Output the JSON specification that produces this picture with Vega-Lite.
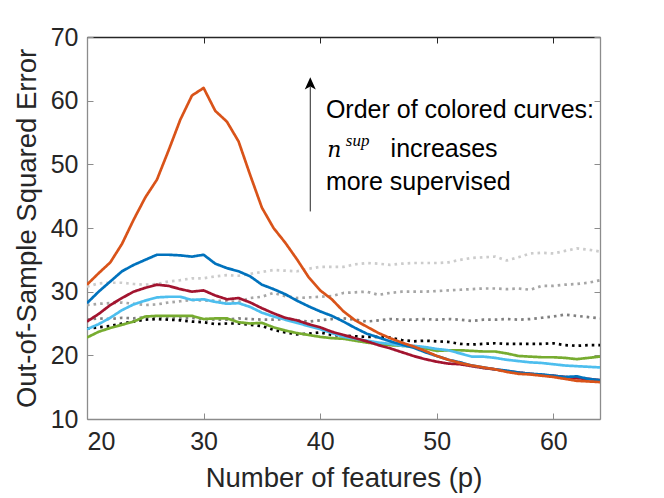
{
  "$schema": "https://vega.github.io/schema/vega-lite/v6.json",
  "width": 513,
  "height": 382,
  "autosize": {"type": "none"},
  "padding": {"left": 87, "top": 37, "right": 64, "bottom": 79},
  "background": "white",
  "config": {
    "view": {"stroke": null},
    "font": "Liberation Sans",
    "axis": {
      "grid": false,
      "domainColor": "#8c8c8c",
      "domainWidth": 1.3,
      "tickColor": "#8c8c8c",
      "tickWidth": 1,
      "tickSize": -6,
      "labelFont": "Liberation Sans",
      "labelFontSize": 25,
      "labelColor": "#262626",
      "titleFont": "Liberation Sans",
      "titleFontSize": 27.5,
      "titleFontWeight": "normal",
      "titleColor": "#262626"
    }
  },
  "datasets": {
    "curves": [
      {"x": 20, "d1": 30.8, "d2": 27.9, "d3": 25.6, "d4": 24.2, "e1": 22.8, "e2": 24.1, "e3": 25.3, "e4": 28.2, "e5": 31.1},
      {"x": 21, "d1": 31.3, "d2": 28.1, "d3": 25.8, "d4": 24.4, "e1": 23.7, "e2": 24.9, "e3": 26.5, "e4": 30.0, "e5": 32.9},
      {"x": 22, "d1": 31.4, "d2": 28.2, "d3": 25.7, "d4": 24.6, "e1": 24.3, "e2": 25.9, "e3": 27.9, "e4": 31.6, "e5": 34.6},
      {"x": 23, "d1": 31.4, "d2": 28.3, "d3": 25.9, "d4": 25.0, "e1": 24.8, "e2": 27.1, "e3": 29.0, "e4": 33.2, "e5": 37.5},
      {"x": 24, "d1": 31.2, "d2": 28.1, "d3": 25.8, "d4": 25.3, "e1": 25.3, "e2": 28.0, "e3": 30.0, "e4": 34.2, "e5": 41.3},
      {"x": 25, "d1": 31.1, "d2": 27.9, "d3": 26.0, "d4": 25.6, "e1": 26.1, "e2": 28.6, "e3": 30.6, "e4": 35.0, "e5": 44.8},
      {"x": 26, "d1": 31.2, "d2": 28.0, "d3": 26.1, "d4": 25.7, "e1": 26.2, "e2": 29.1, "e3": 31.1, "e4": 35.8, "e5": 47.6},
      {"x": 27, "d1": 31.6, "d2": 28.3, "d3": 26.0, "d4": 25.6, "e1": 26.2, "e2": 29.2, "e3": 30.9, "e4": 35.8, "e5": 52.2},
      {"x": 28, "d1": 31.8, "d2": 28.5, "d3": 25.8, "d4": 25.5, "e1": 26.2, "e2": 29.2, "e3": 30.4, "e4": 35.7, "e5": 57.0},
      {"x": 29, "d1": 32.1, "d2": 28.7, "d3": 25.9, "d4": 25.3, "e1": 26.2, "e2": 28.7, "e3": 30.0, "e4": 35.5, "e5": 60.8},
      {"x": 30, "d1": 32.1, "d2": 28.6, "d3": 25.7, "d4": 25.2, "e1": 25.7, "e2": 28.8, "e3": 30.2, "e4": 35.8, "e5": 62.0},
      {"x": 31, "d1": 32.4, "d2": 28.6, "d3": 25.6, "d4": 24.9, "e1": 25.8, "e2": 28.4, "e3": 29.4, "e4": 34.4, "e5": 58.4},
      {"x": 32, "d1": 32.6, "d2": 28.5, "d3": 25.6, "d4": 25.0, "e1": 25.8, "e2": 28.1, "e3": 28.8, "e4": 33.7, "e5": 56.7},
      {"x": 33, "d1": 32.5, "d2": 28.4, "d3": 25.8, "d4": 25.0, "e1": 25.2, "e2": 28.2, "e3": 29.0, "e4": 33.2, "e5": 53.6},
      {"x": 34, "d1": 32.8, "d2": 29.0, "d3": 25.7, "d4": 24.8, "e1": 25.0, "e2": 27.6, "e3": 28.3, "e4": 32.4, "e5": 48.3},
      {"x": 35, "d1": 33.1, "d2": 29.2, "d3": 25.6, "d4": 24.6, "e1": 25.1, "e2": 26.7, "e3": 27.4, "e4": 31.1, "e5": 43.2},
      {"x": 36, "d1": 33.4, "d2": 29.8, "d3": 25.6, "d4": 24.0, "e1": 24.4, "e2": 26.1, "e3": 26.6, "e4": 30.4, "e5": 40.0},
      {"x": 37, "d1": 33.3, "d2": 29.3, "d3": 25.7, "d4": 23.6, "e1": 23.9, "e2": 25.6, "e3": 25.9, "e4": 29.6, "e5": 37.7},
      {"x": 38, "d1": 33.2, "d2": 29.0, "d3": 25.5, "d4": 23.3, "e1": 23.5, "e2": 25.1, "e3": 25.5, "e4": 28.6, "e5": 35.1},
      {"x": 39, "d1": 33.6, "d2": 29.1, "d3": 25.3, "d4": 23.4, "e1": 23.2, "e2": 24.6, "e3": 24.9, "e4": 27.7, "e5": 32.3},
      {"x": 40, "d1": 33.9, "d2": 29.2, "d3": 25.5, "d4": 23.6, "e1": 22.9, "e2": 24.1, "e3": 24.4, "e4": 26.9, "e5": 30.2},
      {"x": 41, "d1": 33.9, "d2": 29.3, "d3": 25.7, "d4": 23.2, "e1": 22.7, "e2": 23.5, "e3": 23.7, "e4": 26.2, "e5": 28.8},
      {"x": 42, "d1": 33.9, "d2": 29.8, "d3": 25.8, "d4": 23.1, "e1": 22.6, "e2": 22.9, "e3": 23.2, "e4": 25.3, "e5": 26.9},
      {"x": 43, "d1": 34.3, "d2": 29.9, "d3": 25.6, "d4": 23.0, "e1": 22.3, "e2": 22.6, "e3": 22.7, "e4": 24.3, "e5": 25.5},
      {"x": 44, "d1": 34.5, "d2": 30.0, "d3": 25.3, "d4": 22.9, "e1": 22.0, "e2": 22.3, "e3": 22.2, "e4": 23.4, "e5": 24.5},
      {"x": 45, "d1": 34.4, "d2": 29.5, "d3": 25.5, "d4": 22.9, "e1": 21.8, "e2": 22.0, "e3": 21.6, "e4": 22.8, "e5": 23.5},
      {"x": 46, "d1": 34.2, "d2": 29.8, "d3": 25.7, "d4": 22.8, "e1": 21.6, "e2": 21.8, "e3": 21.1, "e4": 22.2, "e5": 22.7},
      {"x": 47, "d1": 34.4, "d2": 30.0, "d3": 25.6, "d4": 22.4, "e1": 21.5, "e2": 21.5, "e3": 20.5, "e4": 21.7, "e5": 22.0},
      {"x": 48, "d1": 34.5, "d2": 30.0, "d3": 25.6, "d4": 22.2, "e1": 21.4, "e2": 21.5, "e3": 19.9, "e4": 21.2, "e5": 21.4},
      {"x": 49, "d1": 34.5, "d2": 30.0, "d3": 25.7, "d4": 22.3, "e1": 21.1, "e2": 21.3, "e3": 19.4, "e4": 20.5, "e5": 20.7},
      {"x": 50, "d1": 34.5, "d2": 30.1, "d3": 25.6, "d4": 22.2, "e1": 20.7, "e2": 21.0, "e3": 19.0, "e4": 19.9, "e5": 19.9},
      {"x": 51, "d1": 34.6, "d2": 30.2, "d3": 25.7, "d4": 22.1, "e1": 20.8, "e2": 20.8, "e3": 18.7, "e4": 19.3, "e5": 19.3},
      {"x": 52, "d1": 35.0, "d2": 30.3, "d3": 25.6, "d4": 21.8, "e1": 20.8, "e2": 20.3, "e3": 18.6, "e4": 18.9, "e5": 18.8},
      {"x": 53, "d1": 35.3, "d2": 30.4, "d3": 25.4, "d4": 21.7, "e1": 20.7, "e2": 19.8, "e3": 18.3, "e4": 18.4, "e5": 18.4},
      {"x": 54, "d1": 35.4, "d2": 30.5, "d3": 25.6, "d4": 21.8, "e1": 20.6, "e2": 19.8, "e3": 18.0, "e4": 18.1, "e5": 18.1},
      {"x": 55, "d1": 35.5, "d2": 30.5, "d3": 25.6, "d4": 21.9, "e1": 20.6, "e2": 19.6, "e3": 17.8, "e4": 17.8, "e5": 17.8},
      {"x": 56, "d1": 34.9, "d2": 30.4, "d3": 25.7, "d4": 21.8, "e1": 20.3, "e2": 19.3, "e3": 17.5, "e4": 17.6, "e5": 17.4},
      {"x": 57, "d1": 35.4, "d2": 30.5, "d3": 25.6, "d4": 21.8, "e1": 19.9, "e2": 19.1, "e3": 17.3, "e4": 17.3, "e5": 17.1},
      {"x": 58, "d1": 36.0, "d2": 30.3, "d3": 25.7, "d4": 21.8, "e1": 19.8, "e2": 18.9, "e3": 17.1, "e4": 17.1, "e5": 17.0},
      {"x": 59, "d1": 36.1, "d2": 30.9, "d3": 25.9, "d4": 21.8, "e1": 19.7, "e2": 18.8, "e3": 16.9, "e4": 17.0, "e5": 16.8},
      {"x": 60, "d1": 36.0, "d2": 30.9, "d3": 26.1, "d4": 21.9, "e1": 19.7, "e2": 18.6, "e3": 16.8, "e4": 16.8, "e5": 16.6},
      {"x": 61, "d1": 36.4, "d2": 31.1, "d3": 26.4, "d4": 21.6, "e1": 19.6, "e2": 18.4, "e3": 16.6, "e4": 16.6, "e5": 16.3},
      {"x": 62, "d1": 36.8, "d2": 31.2, "d3": 26.2, "d4": 21.5, "e1": 19.4, "e2": 18.3, "e3": 16.4, "e4": 16.7, "e5": 16.0},
      {"x": 63, "d1": 36.6, "d2": 31.4, "d3": 26.0, "d4": 21.6, "e1": 19.6, "e2": 18.2, "e3": 16.3, "e4": 16.3, "e5": 15.9},
      {"x": 64, "d1": 36.3, "d2": 31.8, "d3": 25.8, "d4": 21.6, "e1": 19.8, "e2": 18.1, "e3": 16.1, "e4": 16.1, "e5": 15.8}
    ],
    "arrow": [{"x": 39.15, "y": 42.6, "y2": 62.2, "tip": 62.7}],
    "plain": [
      {"x": 40.49, "y": 57.28, "t": "Order of colored curves:"},
      {"x": 46.04, "y": 51.15, "t": "increases"},
      {"x": 40.49, "y": 46.0, "t": "more supervised"}
    ],
    "base": [{"x": 40.6, "y": 51.15, "t": "n"}],
    "sup": [{"x": 42.2, "y": 52.9, "t": "sup"}]
  },
  "resolve": {"axis": {"x": "independent", "y": "independent"}},
  "layer": [
    {
      "data": {"name": "curves"},
      "transform": [
        {"fold": ["d1", "d2", "d3", "d4", "e1", "e2", "e3", "e4", "e5"], "as": ["k", "v"]}
      ],
      "mark": {"type": "line", "strokeWidth": 2.7, "strokeCap": "butt", "strokeJoin": "round", "clip": true},
      "encoding": {
        "x": {
          "field": "x", "type": "quantitative",
          "scale": {"domain": [20, 64], "nice": false, "zero": false},
          "axis": {"orient": "bottom", "values": [20, 30, 40, 50, 60], "title": "Number of features (p)", "labelPadding": 16, "titlePadding": 10}
        },
        "y": {
          "field": "v", "type": "quantitative",
          "scale": {"domain": [10, 70], "nice": false, "zero": false},
          "axis": {"orient": "left", "values": [10, 20, 30, 40, 50, 60, 70], "title": "Out-of-Sample Squared Error", "labelPadding": 15, "titlePadding": 9}
        },
        "color": {
          "field": "k", "type": "nominal", "legend": null,
          "scale": {
            "domain": ["d1", "d2", "d3", "d4", "e1", "e2", "e3", "e4", "e5"],
            "range": ["#cccccc", "#a6a6a6", "#808080", "#000000", "#77AC30", "#4DBEEE", "#A2142F", "#0072BD", "#D95319"]
          }
        },
        "strokeDash": {
          "field": "k", "type": "nominal", "legend": null,
          "scale": {
            "domain": ["d1", "d2", "d3", "d4", "e1", "e2", "e3", "e4", "e5"],
            "range": [[2.6, 4], [2.6, 4], [2.6, 4], [2.6, 4], [1, 0], [1, 0], [1, 0], [1, 0], [1, 0]]
          }
        }
      }
    },
    {
      "data": {"name": "arrow"},
      "mark": {"type": "rule", "color": "#262626", "strokeWidth": 1},
      "encoding": {
        "x": {
          "field": "x", "type": "quantitative",
          "scale": {"domain": [20, 64], "nice": false, "zero": false},
          "axis": {"orient": "top", "values": [20, 30, 40, 50, 60], "labels": false, "title": null, "domainColor": "#262626", "tickColor": "#262626"}
        },
        "y": {
          "field": "y", "type": "quantitative",
          "scale": {"domain": [10, 70], "nice": false, "zero": false},
          "axis": {"orient": "right", "values": [10, 20, 30, 40, 50, 60, 70], "labels": false, "title": null}
        },
        "y2": {"field": "y2"}
      }
    },
    {
      "data": {"name": "arrow"},
      "mark": {"type": "point", "filled": true, "color": "#000000", "opacity": 1, "size": 150, "shape": "M0,-1L0.9,1L0,0.5L-0.9,1Z"},
      "encoding": {
        "x": {"field": "x", "type": "quantitative", "scale": {"domain": [20, 64], "nice": false, "zero": false}, "axis": null},
        "y": {"field": "tip", "type": "quantitative", "scale": {"domain": [10, 70], "nice": false, "zero": false}, "axis": null}
      }
    },
    {
      "data": {"name": "plain"},
      "mark": {"type": "text", "align": "left", "baseline": "alphabetic", "font": "Liberation Sans", "fontSize": 25, "color": "#000000"},
      "encoding": {
        "x": {"field": "x", "type": "quantitative", "scale": {"domain": [20, 64], "nice": false, "zero": false}, "axis": null},
        "y": {"field": "y", "type": "quantitative", "scale": {"domain": [10, 70], "nice": false, "zero": false}, "axis": null},
        "text": {"field": "t"}
      }
    },
    {
      "data": {"name": "base"},
      "mark": {"type": "text", "align": "left", "baseline": "alphabetic", "font": "DejaVu Serif", "fontStyle": "italic", "fontSize": 22, "color": "#000000"},
      "encoding": {
        "x": {"field": "x", "type": "quantitative", "scale": {"domain": [20, 64], "nice": false, "zero": false}, "axis": null},
        "y": {"field": "y", "type": "quantitative", "scale": {"domain": [10, 70], "nice": false, "zero": false}, "axis": null},
        "text": {"field": "t"}
      }
    },
    {
      "data": {"name": "sup"},
      "mark": {"type": "text", "align": "left", "baseline": "alphabetic", "font": "Liberation Serif", "fontStyle": "italic", "fontSize": 17, "color": "#000000"},
      "encoding": {
        "x": {"field": "x", "type": "quantitative", "scale": {"domain": [20, 64], "nice": false, "zero": false}, "axis": null},
        "y": {"field": "y", "type": "quantitative", "scale": {"domain": [10, 70], "nice": false, "zero": false}, "axis": null},
        "text": {"field": "t"}
      }
    }
  ]
}
